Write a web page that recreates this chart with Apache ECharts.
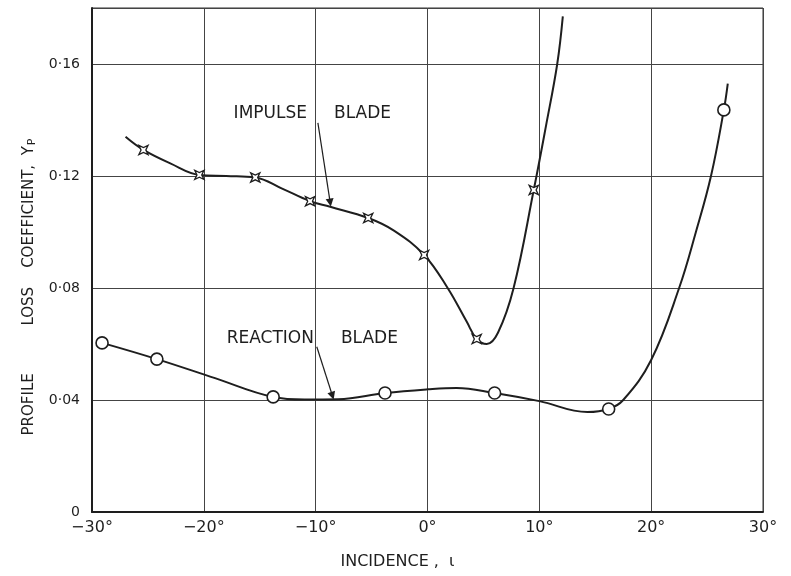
<!DOCTYPE html>
<html>
<head>
<meta charset="utf-8">
<script src="https://cdn.jsdelivr.net/npm/echarts@6/dist/echarts.min.js"></script>
<style>html,body{margin:0;background:#fff}#chart{width:791px;height:576px}</style>
</head>
<body>
<div id="chart"></div>
<script>
// test points
var impulseX = [-25.4, -20.4, -15.4, -10.5, -5.3, -0.3, 4.4, 9.5];
var impulseY = [0.1293, 0.1204, 0.1195, 0.111, 0.105, 0.0918, 0.0618, 0.115];
var reactionX = [-29.1, -24.2, -13.8, -3.8, 6.0, 16.2, 26.5];
var reactionY = [0.0604, 0.0546, 0.0411, 0.0425, 0.0425, 0.0368, 0.1436];

// faired curves
var impulseCurveX = [-27.0, -25.4, -23.0, -20.4, -18.0, -15.4, -13.0, -10.5, -8.7, -5.3, -3.0, -0.3, 1.8, 3.5, 4.4, 5.3, 6.3, 7.7, 9.5, 10.6, 11.6, 12.1];
var impulseCurveY = [0.134, 0.1293, 0.1245, 0.1204, 0.1200, 0.1195, 0.1155, 0.111, 0.109, 0.105, 0.1005, 0.0918, 0.080, 0.068, 0.0618, 0.0600, 0.0640, 0.080, 0.115, 0.138, 0.160, 0.177];
var reactionCurveX = [-29.1, -24.2, -19.0, -13.8, -11.0, -8.0, -3.8, 0.0, 2.6, 6.0, 10.0, 14.3, 16.2, 17.5, 20.0, 22.5, 24.0, 25.35, 26.5, 26.85];
var reactionCurveY = [0.0604, 0.0546, 0.0478, 0.0411, 0.0402, 0.0403, 0.0425, 0.0438, 0.0443, 0.0425, 0.0396, 0.0357, 0.0368, 0.0400, 0.0543, 0.080, 0.100, 0.120, 0.1436, 0.153];

var xTicks = [-30, -20, -10, 0, 10, 20, 30];
var xTickLabels = ['−30°', '−20°', '−10°', '0°', '10°', '20°', '30°'];
var yTicks = [0, 0.04, 0.08, 0.12, 0.16];
var yTickLabels = ['0', '0·04', '0·08', '0·12', '0·16'];

function zip(xs, ys) {
  return xs.map(function (x, i) { return [x, ys[i]]; });
}
function pick(ticks, labels) {
  return function (v) {
    for (var i = 0; i < ticks.length; i++) {
      if (Math.abs(ticks[i] - v) < 1e-9) return labels[i];
    }
    return '';
  };
}

var ink = '#1e1e1e';
var font = 'DejaVu Sans';
var starPath = 'path://M0,-10L2.6,-2.6L10,0L2.6,2.6L0,10L-2.6,2.6L-10,0L-2.6,-2.6Z';

var chart = echarts.init(document.getElementById('chart'));
chart.setOption({
  animation: false,
  grid: {
    left: 92, right: 28, top: 8, bottom: 64,
    show: true, borderColor: '#333', borderWidth: 1
  },
  xAxis: {
    type: 'value', min: -30, max: 30, interval: 10,
    name: 'INCIDENCE ,  ι', nameLocation: 'middle', nameGap: 42,
    nameTextStyle: { fontFamily: font, fontSize: 16, color: ink, padding: [0, 60, 0, 0] },
    axisLine: { onZero: false, lineStyle: { color: ink, width: 2 } },
    axisTick: { show: false },
    axisLabel: { formatter: pick(xTicks, xTickLabels), fontFamily: font, fontSize: 16, color: ink, margin: 8 },
    splitLine: { lineStyle: { color: '#444', width: 1 } }
  },
  yAxis: {
    type: 'value', min: 0, max: 0.18, interval: 0.04,
    name: '{a|PROFILE          LOSS    COEFFICIENT,  Y}{s|P}', nameLocation: 'middle', nameGap: 54,
    nameTextStyle: {
      padding: [0, 54, 0, 0],
      rich: {
        a: { fontFamily: font, fontSize: 15, color: ink },
        s: { fontFamily: font, fontSize: 11, color: ink, verticalAlign: 'bottom', padding: [6, 0, 0, 1] }
      }
    },
    axisLine: { show: true, onZero: false, lineStyle: { color: ink, width: 2 } },
    axisTick: { show: false },
    axisLabel: { formatter: pick(yTicks, yTickLabels), fontFamily: font, fontSize: 14, color: ink, margin: 12 },
    splitLine: { lineStyle: { color: '#444', width: 1 } }
  },
  series: [
    {
      name: 'Impulse curve', type: 'line', data: zip(impulseCurveX, impulseCurveY),
      smooth: 0.4, showSymbol: false, lineStyle: { color: ink, width: 2 }, z: 3
    },
    {
      name: 'Reaction curve', type: 'line', data: zip(reactionCurveX, reactionCurveY),
      smooth: 0.4, showSymbol: false, lineStyle: { color: ink, width: 2 }, z: 3
    },
    {
      name: 'Impulse blade', type: 'scatter', data: zip(impulseX, impulseY),
      symbol: starPath, symbolSize: 13, symbolRotate: 45,
      itemStyle: { color: '#fff', borderColor: ink, borderWidth: 1.3, opacity: 1 }, z: 5,
      markLine: {
        silent: true, symbol: ['none', 'triangle'], symbolSize: 8,
        lineStyle: { color: ink, width: 1.2, type: 'solid' }, label: { show: false },
        data: [[{ coord: [-9.8, 0.139] }, { coord: [-8.7, 0.1105] }]]
      },
      markPoint: {
        silent: true, symbol: 'circle', symbolSize: 0,
        label: { show: true, position: 'inside', fontFamily: font, fontSize: 17, color: ink },
        data: [{ coord: [-10.3, 0.1424], value: 'IMPULSE     BLADE' }]
      }
    },
    {
      name: 'Reaction blade', type: 'scatter', data: zip(reactionX, reactionY),
      symbol: 'circle', symbolSize: 12,
      itemStyle: { color: '#fff', borderColor: ink, borderWidth: 1.6, opacity: 1 }, z: 5,
      markLine: {
        silent: true, symbol: ['none', 'triangle'], symbolSize: 8,
        lineStyle: { color: ink, width: 1.2, type: 'solid' }, label: { show: false },
        data: [[{ coord: [-9.9, 0.059] }, { coord: [-8.5, 0.0415] }]]
      },
      markPoint: {
        silent: true, symbol: 'circle', symbolSize: 0,
        label: { show: true, position: 'inside', fontFamily: font, fontSize: 17, color: ink },
        data: [{ coord: [-10.3, 0.0621], value: 'REACTION     BLADE' }]
      }
    }
  ]
});
</script>
</body>
</html>
